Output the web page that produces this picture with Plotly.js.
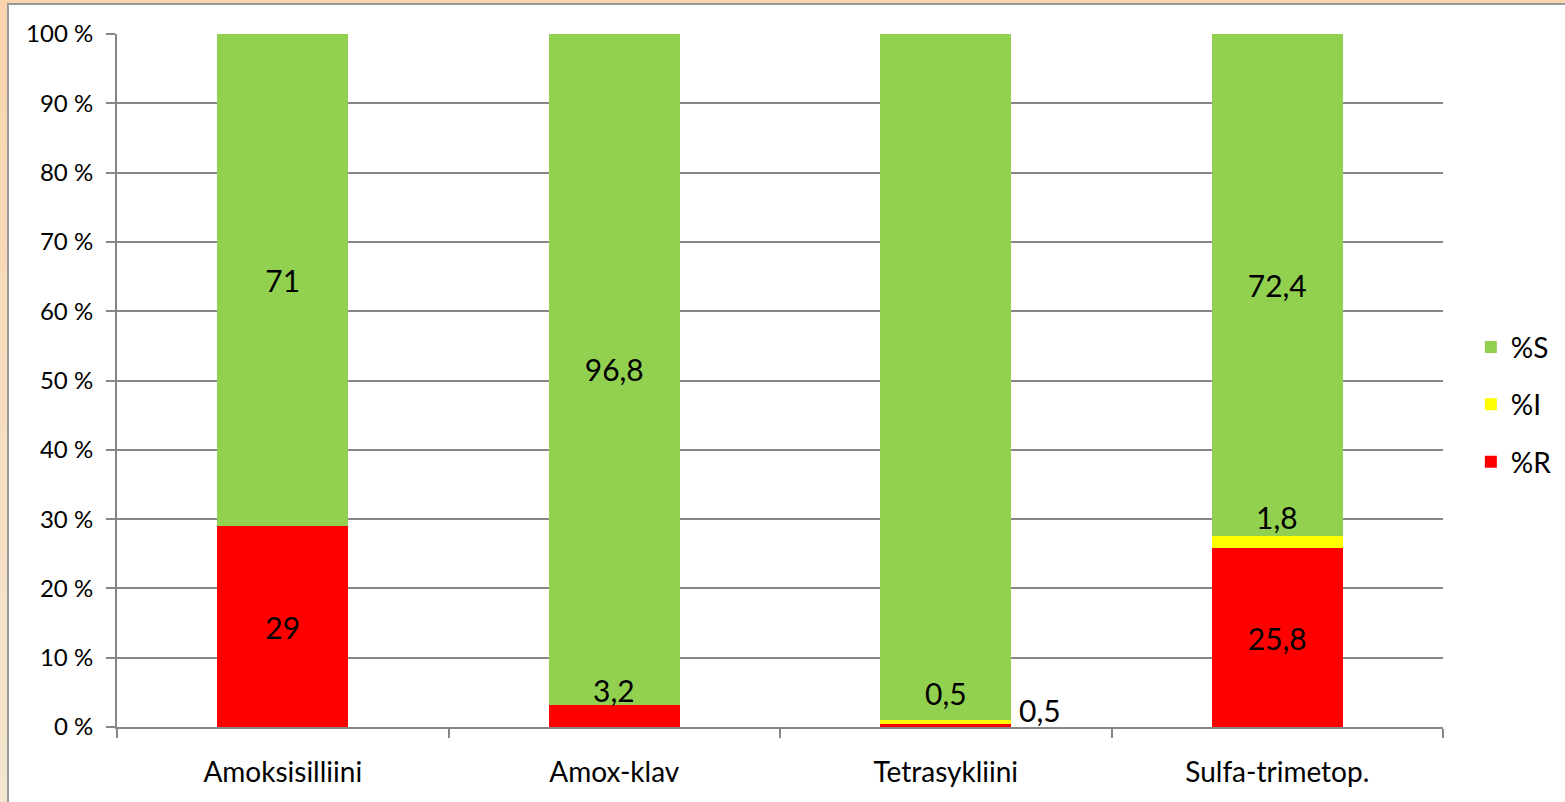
<!DOCTYPE html>
<html>
<head>
<meta charset="utf-8">
<script src="https://cdn.plot.ly/plotly-3.0.1.min.js"></script>
<style>
  html, body { margin:0; padding:0; width:1565px; height:802px; overflow:hidden;
    background: linear-gradient(to bottom, #FAD4AE 0%, #F3E6CF 100%); }
  #frame { position:absolute; left:7px; top:3px; width:1558px; height:799px;
    border-left:2px solid #9A9A9A; border-top:2px solid #9A9A9A; background:#fff; box-sizing:border-box; }
  #chart { position:absolute; left:0; top:0; width:1556px; height:797px; }
</style>
</head>
<body>
<div id="frame"><div id="chart"></div></div>
<script>
const categories = ["Amoksisilliini", "Amox-klav", "Tetrasykliini", "Sulfa-trimetop."];
const pctR = [29, 3.2, 0.5, 25.8];
const pctI = [0, 0, 0.5, 1.8];
const pctS = [71, 96.8, 99.1, 72.4];
const seriesNames = ["%R", "%I", "%S"];
const seriesColors = ["#FF0000", "#FFFF00", "#92D050"];
const legendRanks = [3, 2, 1];

const fmt = v => String(v).replace('.', ',');
const FONT = "Lato, 'Open Sans', sans-serif";
const LABEL_MIN = 5; // segments smaller than this get an outside label
const LBL = 30;

function inText(arr) { return arr.map(v => (v >= LABEL_MIN ? fmt(v) : "")); }

const values = [pctR, pctI, pctS];
const traces = values.map((vals, k) => ({
  type: "bar",
  name: seriesNames[k],
  x: categories,
  y: vals,
  marker: { color: seriesColors[k] },
  width: 0.395,
  text: inText(vals),
  textposition: "inside",
  insidetextanchor: "middle",
  textfont: { family: FONT, size: LBL, color: "#000" },
  legendgroup: seriesNames[k],
  legendrank: legendRanks[k],
  hoverinfo: "skip",
  cliponaxis: false
}));

// labels for small segments, positioned from data
const annotations = [];
categories.forEach((c, i) => {
  const rTop = pctR[i];
  const iTop = pctR[i] + pctI[i];
  if (pctI[i] > 0 && pctI[i] < LABEL_MIN) {
    annotations.push({ x: c, y: iTop, xref: "x", yref: "y", text: fmt(pctI[i]), showarrow: false,
      yanchor: "bottom", yshift: pctR[i] < LABEL_MIN ? 7 : -1, font: { family: FONT, size: LBL, color: "#000" } });
    if (pctR[i] < LABEL_MIN) {
      annotations.push({ x: c, y: rTop, xref: "x", yref: "y", text: fmt(pctR[i]), showarrow: false,
        yanchor: "bottom", xanchor: "center", xshift: 94, yshift: -6, font: { family: FONT, size: LBL, color: "#000" } });
    }
  } else if (pctR[i] < LABEL_MIN) {
    annotations.push({ x: c, y: rTop, xref: "x", yref: "y", text: fmt(pctR[i]), showarrow: false,
      yanchor: "bottom", yshift: -5, font: { family: FONT, size: LBL, color: "#000" } });
  }
});

const layout = {
  width: 1556, height: 797,
  margin: { l: 108, r: 122, t: 29, b: 75, autoexpand: false },
  paper_bgcolor: "#fff", plot_bgcolor: "#fff",
  barmode: "stack",
  showlegend: true,
  legend: { x: 1.021, xanchor: "left", y: 0.465, yanchor: "middle",
    traceorder: "grouped", tracegroupgap: 18,
    font: { family: FONT, size: 28, color: "#000" }, bgcolor: "rgba(0,0,0,0)" },
  xaxis: {
    type: "category",
    tickson: "boundaries",
    ticks: "outside", ticklen: 9, tickwidth: 2, tickcolor: "#868686",
    showline: true, linecolor: "#868686", linewidth: 2,
    showgrid: false,
    ticklabelstandoff: 19,
    tickfont: { family: FONT, size: 28, color: "#000" },
    fixedrange: true
  },
  yaxis: {
    range: [0, 100],
    dtick: 10, tick0: 0,
    ticksuffix: " %",
    ticks: "outside", ticklen: 9, tickwidth: 2, tickcolor: "#868686",
    showline: true, linecolor: "#868686", linewidth: 2,
    showgrid: true, gridcolor: "#868686", gridwidth: 2,
    zeroline: false,
    ticklabelstandoff: 8,
    tickfont: { family: FONT, size: 24, color: "#000" },
    fixedrange: true
  },
  annotations: annotations,
  font: { family: FONT }
};

Plotly.newPlot("chart", traces, layout, { displayModeBar: false, staticPlot: true });
</script>
</body>
</html>
